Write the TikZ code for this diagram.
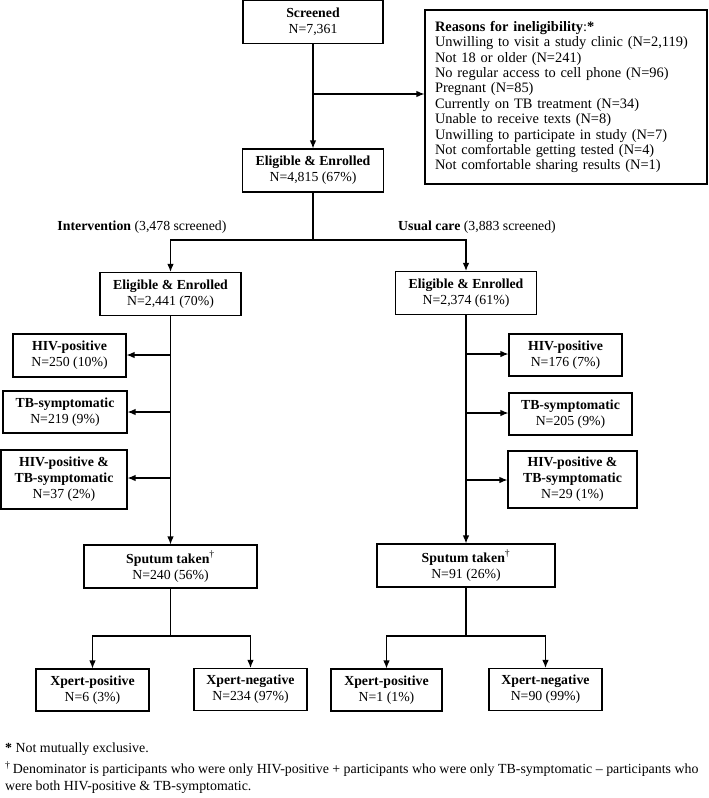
\documentclass[tikz,border=0pt]{standalone}
\usepackage{fontspec}
\setmainfont{Liberation Serif}
\usetikzlibrary{arrows.meta}
\tikzset{
  box/.style={draw, line width=1.1pt, align=center, inner sep=0pt,
    font=\fontsize{13.8}{16}\selectfont},
  conn/.style={line width=1.2pt},
  arr/.style={conn, -{Latex[length=8pt,width=6.5pt]}},
  lbl/.style={inner sep=0pt, font=\fontsize{13.8}{16}\selectfont},
  foot/.style={inner sep=0pt, anchor=west, font=\fontsize{13.9}{16}\selectfont}
}
\begin{document}
\begin{tikzpicture}[x=1pt,y=-1pt]
\useasboundingbox (0,0) rectangle (709,798);
% top
\node[box, minimum width=140pt, minimum height=43pt] (scr) at (313,22) {\textbf{Screened}\\N=7,361};
\node[box, minimum width=141pt, minimum height=43pt] (elig) at (313,170.5) {\textbf{Eligible \& Enrolled}\\N=4,815 (67\%)};
\node[box, minimum width=282pt, minimum height=174pt, text width=262pt, align=left,
      font=\fontsize{14.4}{15.4}\selectfont] (rsn) at (566,97)
 {\textbf{Reasons for ineligibility}:\textbf{*}\\
  Unwilling to visit a study clinic (N=2,119)\\
  Not 18 or older (N=241)\\
  No regular access to cell phone (N=96)\\
  Pregnant (N=85)\\
  Currently on TB treatment (N=34)\\
  Unable to receive texts (N=8)\\
  Unwilling to participate in study (N=7)\\
  Not comfortable getting tested (N=4)\\
  Not comfortable sharing results (N=1)};
\coordinate (j1) at (313,94);
\draw[arr] (scr) -- (elig);
\draw[arr] (j1) -- (j1 -| rsn.west);
% split
\node[lbl] (intv) at (142,227) {\textbf{Intervention} (3,478 screened)};
\node[lbl, anchor=west] (usc) at (398,227) {\textbf{Usual care} (3,883 screened)};
\node[box, minimum width=141pt, minimum height=43pt] (eligL) at (170.5,294) {\textbf{Eligible \& Enrolled}\\N=2,441 (70\%)};
\node[box, minimum width=141pt, minimum height=43pt] (eligR) at (466,293) {\textbf{Eligible \& Enrolled}\\N=2,374 (61\%)};
\coordinate (sp) at (313,240);
\draw[conn] (elig) -- (sp);
\draw[arr] (sp) -| (eligL);
\draw[arr] (sp) -| (eligR);
% left column
\node[box, minimum width=113pt, minimum height=43pt] (hivL) at (69.5,355.5) {\textbf{HIV-positive}\\N=250 (10\%)};
\node[box, minimum width=124pt, minimum height=42pt] (tbL) at (65,412) {\textbf{TB-symptomatic}\\N=219 (9\%)};
\node[box, minimum width=126pt, minimum height=59pt] (hvtL) at (64,479.5) {\textbf{HIV-positive \&}\\\textbf{TB-symptomatic}\\N=37 (2\%)};
\node[box, minimum width=173pt, minimum height=43pt] (spL) at (170.5,566.5) {\textbf{Sputum taken}\textsuperscript{†}\\N=240 (56\%)};
\draw[arr] (eligL) -- (spL);
\coordinate (a1) at (170.5,355);
\coordinate (a2) at (170.5,412);
\coordinate (a3) at (170.5,478);
\draw[arr] (a1) -- (a1 -| hivL.east);
\draw[arr] (a2) -- (a2 -| tbL.east);
\draw[arr] (a3) -- (a3 -| hvtL.east);
% right column
\node[box, minimum width=113pt, minimum height=42pt] (hivR) at (565.5,355) {\textbf{HIV-positive}\\N=176 (7\%)};
\node[box, minimum width=123pt, minimum height=42pt] (tbR) at (570.5,414) {\textbf{TB-symptomatic}\\N=205 (9\%)};
\node[box, minimum width=129pt, minimum height=57pt] (hvtR) at (572.5,479.5) {\textbf{HIV-positive \&}\\\textbf{TB-symptomatic}\\N=29 (1\%)};
\node[box, minimum width=178pt, minimum height=43pt] (spR) at (466,565.5) {\textbf{Sputum taken}\textsuperscript{†}\\N=91 (26\%)};
\draw[arr] (eligR) -- (spR);
\coordinate (b1) at (466,354);
\coordinate (b2) at (466,413);
\coordinate (b3) at (466,480);
\draw[arr] (b1) -- (b1 -| hivR.west);
\draw[arr] (b2) -- (b2 -| tbR.west);
\draw[arr] (b3) -- (b3 -| hvtR.west);
% xpert
\node[box, minimum width=113pt, minimum height=42pt] (xpL) at (92.5,690) {\textbf{Xpert-positive}\\N=6 (3\%)};
\node[box, minimum width=113pt, minimum height=42pt] (xnL) at (250.5,689.5) {\textbf{Xpert-negative}\\N=234 (97\%)};
\node[box, minimum width=111pt, minimum height=42pt] (xpR) at (386.5,690) {\textbf{Xpert-positive}\\N=1 (1\%)};
\node[box, minimum width=113pt, minimum height=42pt] (xnR) at (545.5,689.5) {\textbf{Xpert-negative}\\N=90 (99\%)};
\coordinate (cL) at (170.5,636);
\coordinate (cR) at (466,636);
\draw[conn] (spL) -- (cL);
\draw[arr] (cL) -| (xpL);
\draw[arr] (cL) -| (xnL);
\draw[conn] (spR) -- (cR);
\draw[arr] (cR) -| (xpR);
\draw[arr] (cR) -| (xnR);
% footnotes
\node[foot] (f1) at (5,749) {\textbf{*} Not mutually exclusive.};
\node[foot] (f2) at (5,769) {\textsuperscript{†}\,Denominator is participants who were only HIV-positive + participants who were only TB-symptomatic – participants who};
\node[foot] (f3) at (5,787) {were both HIV-positive \& TB-symptomatic.};
\end{tikzpicture}
\end{document}
